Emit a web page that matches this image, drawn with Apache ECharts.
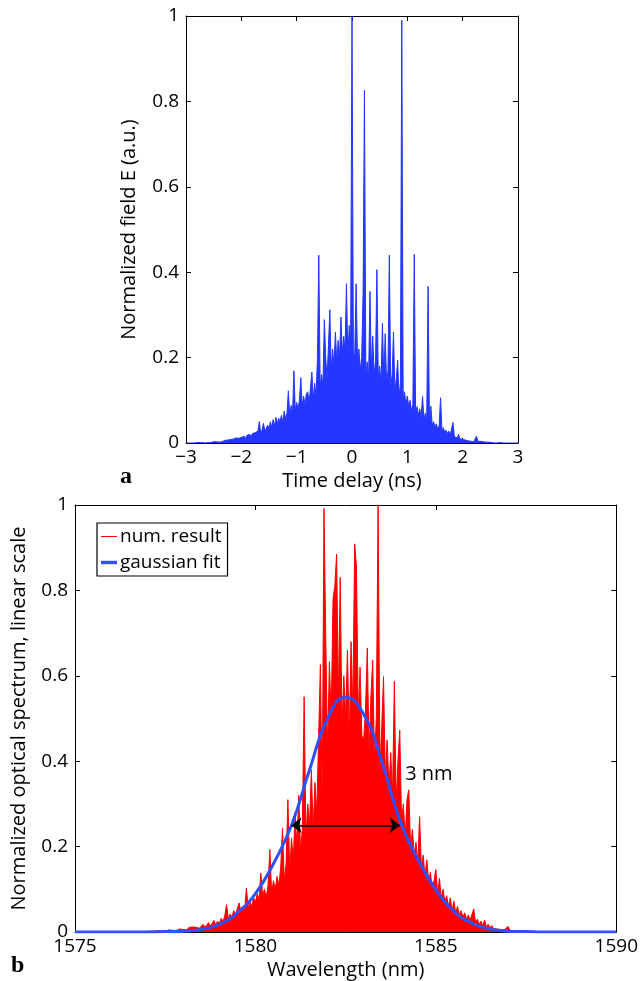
<!DOCTYPE html>
<html>
<head>
<meta charset="utf-8">
<script src="https://cdn.jsdelivr.net/npm/echarts@6/dist/echarts.min.js"></script>
<style>
html,body{margin:0;padding:0;background:#fff;}
#chart{width:641px;height:981px;}
</style>
</head>
<body>
<div id="chart"></div>
<script>
// ---------- Panel a: time domain field ----------
const timeStart = -3;
const timeStep = 0.025;
const fieldValues = [
  0,0,0,0,0,0,0,0,0.001,0,0.001,0,0.001,0.001,0,0.002,0.001,0.002,0.001,0.002,
  0.003,0.002,0.003,0.004,0.002,0.005,0.003,0.004,0.006,0.003,0.007,0.005,0.008,0.006,0.009,0.007,0.012,0.008,0.011,0.01,
  0.013,0.012,0.016,0.01,0.018,0.014,0.02,0.015,0.022,0.018,0.024,0.02,0.028,0.05,0.024,0.03,0.046,0.028,0.034,0.042,
  0.033,0.05,0.036,0.055,0.04,0.06,0.045,0.058,0.05,0.065,0.048,0.075,0.055,0.07,0.122,0.062,0.088,0.068,0.169,0.075,
  0.095,0.08,0.1,0.153,0.085,0.11,0.09,0.115,0.12,0.095,0.13,0.166,0.1,0.14,0.11,0.197,0.44,0.13,0.16,0.135,
  0.289,0.2,0.15,0.23,0.312,0.17,0.22,0.18,0.26,0.19,0.24,0.2,0.295,0.21,0.25,0.22,0.373,0.2,0.275,0.23,
  1.0,0.2,0.21,0.373,0.19,0.22,0.17,0.2,0.35,0.826,0.16,0.19,0.15,0.355,0.17,0.25,0.16,0.19,0.406,0.15,
  0.18,0.14,0.281,0.15,0.256,0.14,0.17,0.44,0.13,0.16,0.26,0.12,0.15,0.194,0.11,0.14,0.99,0.1,0.12,0.09,
  0.11,0.085,0.1,0.075,0.09,0.442,0.07,0.085,0.065,0.08,0.06,0.109,0.055,0.07,0.05,0.367,0.048,0.086,0.042,0.05,
  0.038,0.045,0.032,0.04,0.106,0.03,0.036,0.025,0.03,0.022,0.028,0.018,0.022,0.048,0.015,0.018,0.012,0.02,0.01,0.012,
  0.008,0.01,0.007,0.008,0.005,0.007,0.004,0.006,0.003,0.005,0.016,0.004,0.003,0.004,0.002,0.003,0.002,0.002,0.001,0.002,
  0.001,0.001,0.001,0,0.001,0,0,0.001,0,0,0,0,0,0,0,0,0,0,0,0,0
];
const timeTicks = [-3, -2, -1, 0, 1, 2, 3];

// ---------- Panel b: optical spectrum ----------
const specStart = 1576;
const specStep = 0.05;
const spectrumValues = [
  0,0,0,0,0,0,0,0,0,0,0,0,0,0,0,0,0,0.001,0,0.001,
  0.001,0,0.002,0.001,0.002,0.001,0.003,0.001,0.002,0.004,0.002,0.003,0.005,0.002,0.004,0.006,0.003,0.005,0.007,0.004,
  0.006,0.008,0.005,0.01,0.007,0.012,0.008,0.011,0.015,0.009,0.013,0.018,0.011,0.016,0.022,0.014,0.02,0.027,0.017,0.025,
  0.02,0.032,0.024,0.038,0.064,0.03,0.042,0.035,0.05,0.04,0.055,0.068,0.045,0.06,0.05,0.103,0.055,0.07,0.06,0.08,
  0.07,0.09,0.075,0.138,0.085,0.1,0.08,0.11,0.193,0.09,0.12,0.1,0.13,0.11,0.15,0.243,0.12,0.16,0.31,0.14,
  0.22,0.17,0.28,0.2,0.32,0.19,0.24,0.551,0.22,0.3,0.25,0.38,0.24,0.35,0.28,0.45,0.626,0.3,0.992,0.684,
  0.42,0.633,0.5,0.78,0.81,0.885,0.55,0.83,0.48,0.6,0.5,0.66,0.45,0.68,0.52,0.909,0.856,0.5,0.62,0.46,
  0.45,0.52,0.665,0.42,0.55,0.637,0.4,0.5,1.0,0.38,0.48,0.598,0.36,0.45,0.34,0.42,0.32,0.587,0.3,0.4,
  0.473,0.26,0.3,0.22,0.31,0.333,0.2,0.24,0.18,0.21,0.16,0.27,0.15,0.18,0.13,0.169,0.12,0.14,0.1,0.12,
  0.146,0.09,0.126,0.08,0.1,0.07,0.085,0.06,0.08,0.05,0.072,0.045,0.06,0.04,0.05,0.035,0.045,0.03,0.04,0.028,
  0.03,0.054,0.022,0.03,0.018,0.025,0.015,0.028,0.012,0.018,0.01,0.015,0.008,0.012,0.007,0.01,0.006,0.008,0.005,0.007,
  0.013,0.004,0.006,0.003,0.005,0.002,0.004,0.002,0.003,0.001,0.003,0.001,0.002,0.001,0.002,0,0.001,0,0.001,0,
  0.001,0,0,0.001,0,0,0,0,0,0,0,0,0,0,0,0,0,0,0,0,0
];
const fitWavelengths = [1575,1576,1577,1577.5,1578,1578.5,1579,1579.5,1580,1580.5,1581,1581.5,1582,1582.5,1583,1583.5,1584,1584.5,1585,1585.5,1586,1586.5,1587,1587.5,1588,1589,1590];
const fitValues      = [0,0,0,0.001,0.002,0.006,0.018,0.045,0.09,0.16,0.25,0.38,0.5,0.55,0.51,0.4,0.262,0.17,0.099,0.048,0.021,0.007,0.002,0.001,0,0,0];
const widthArrow = [[1581.0, 0.25], [1584.0, 0.25]];
const widthLabel = {x: 1584.15, y: 0.37, text: '3 nm'};
const legendNames = ['num. result', 'gaussian fit'];

const FONT = '"Open Sans", "Noto Sans", sans-serif';
const BLACK = '#000';
const BLUE_A = '#2436ff';
const RED = '#ff0000';
const BLUE_FIT = '#3050ff';

const fieldData = fieldValues.map((v, i) => [timeStart + i * timeStep, v]);
const spectrumData = spectrumValues.map((v, i) => [specStart + i * specStep, v]);
const fitData = fitWavelengths.map((w, i) => [w, fitValues[i]]);

const minus = s => String(s).replace('-', '\u2212');

function xAx(grid, min, max, interval, name, position, show) {
  return {
    type: 'value', gridIndex: grid, min: min, max: max, interval: interval,
    position: position,
    name: show ? name : '', nameLocation: 'middle', nameGap: 28,
    nameTextStyle: {fontFamily: FONT, fontSize: 20, color: BLACK},
    axisLine: {show: true, onZero: false, lineStyle: {color: BLACK, width: 1}},
    axisTick: {show: true, inside: true, length: 5, lineStyle: {color: BLACK}},
    axisLabel: {show: show, fontFamily: FONT, fontSize: 19, color: BLACK, margin: 5,
      formatter: v => minus(v)},
    splitLine: {show: false}
  };
}
function yAx(grid, name, nameGap, position, show) {
  return {
    type: 'value', gridIndex: grid, min: 0, max: 1, interval: 0.2,
    position: position,
    name: show ? name : '', nameLocation: 'middle', nameGap: nameGap,
    nameTextStyle: {fontFamily: FONT, fontSize: 20, color: BLACK},
    axisLine: {show: true, onZero: false, lineStyle: {color: BLACK, width: 1}},
    axisTick: {show: true, inside: true, length: 5, lineStyle: {color: BLACK}},
    axisLabel: {show: show, fontFamily: FONT, fontSize: 19, color: BLACK, margin: 7,
      formatter: v => String(+v.toFixed(1))},
    splitLine: {show: false}
  };
}

const thinIcon = 'path://M0,0L0,0M16,10L16,10M0,4.5L16,4.5L16,5.5L0,5.5Z';
const thickIcon = 'path://M0,0L0,0M16,10L16,10M0,3.3L16,3.3L16,6.7L0,6.7Z';

const chart = echarts.init(document.getElementById('chart'), null, {renderer: 'canvas'});
chart.setOption({
  animation: false,
  backgroundColor: '#fff',
  grid: [
    {left: 186, top: 16, width: 332, height: 427},
    {left: 75, top: 505, width: 542, height: 427}
  ],
  xAxis: [
    xAx(0, -3, 3, 1, 'Time delay (ns)', 'bottom', true),
    xAx(0, -3, 3, 1, '', 'top', false),
    xAx(1, 1575, 1590, 5, 'Wavelength (nm)', 'bottom', true),
    xAx(1, 1575, 1590, 5, '', 'top', false)
  ],
  yAxis: [
    yAx(0, 'Normalized field E (a.u.)', 47, 'left', true),
    yAx(0, '', 0, 'right', false),
    yAx(1, 'Normalized optical spectrum, linear scale', 46, 'left', true),
    yAx(1, '', 0, 'right', false)
  ],
  legend: {
    data: [
      {name: legendNames[0], icon: thinIcon},
      {name: legendNames[1], icon: thickIcon}
    ],
    left: 97, top: 523,
    orient: 'vertical',
    backgroundColor: '#fff',
    borderColor: BLACK, borderWidth: 1.2, borderRadius: 0,
    padding: [4, 6, 4, 4],
    itemGap: 7,
    itemWidth: 16, itemHeight: 10,
    textStyle: {fontFamily: FONT, fontSize: 19, color: BLACK, padding: [0, 0, 0, -2]}
  },
  series: [
    {
      type: 'line', xAxisIndex: 0, yAxisIndex: 0,
      data: fieldData, symbol: 'none', sampling: null,
      lineStyle: {color: BLUE_A, width: 1},
      areaStyle: {color: BLUE_A, opacity: 1},
      z: 2
    },
    {
      name: legendNames[0],
      type: 'line', xAxisIndex: 2, yAxisIndex: 2,
      data: spectrumData, symbol: 'none',
      color: RED,
      lineStyle: {color: RED, width: 1},
      areaStyle: {color: RED, opacity: 1},
      z: 2
    },
    {
      name: legendNames[1],
      type: 'line', xAxisIndex: 2, yAxisIndex: 2,
      data: fitData, symbol: 'none', smooth: 0.5,
      color: BLUE_FIT,
      lineStyle: {color: BLUE_FIT, width: 3},
      z: 4,
      markLine: {
        silent: true,
        symbol: ['arrow', 'arrow'], symbolSize: [12, 10],
        lineStyle: {color: BLACK, width: 1.5, type: 'solid'},
        label: {show: false},
        data: [[{coord: widthArrow[0]}, {coord: widthArrow[1]}]]
      },
      markPoint: {
        silent: true,
        symbol: 'circle', symbolSize: 0,
        label: {show: true, position: 'right', distance: 0, formatter: widthLabel.text,
          fontFamily: FONT, fontSize: 20, color: BLACK},
        data: [{coord: [widthLabel.x, widthLabel.y]}]
      }
    }
  ],
  graphic: [
    {type: 'text', left: 120, top: 465, style: {text: 'a', font: 'bold 24px "Liberation Serif", serif', fill: BLACK}},
    {type: 'text', left: 11, top: 954, style: {text: 'b', font: 'bold 24px "Liberation Serif", serif', fill: BLACK}}
  ]
});
</script>
</body>
</html>
